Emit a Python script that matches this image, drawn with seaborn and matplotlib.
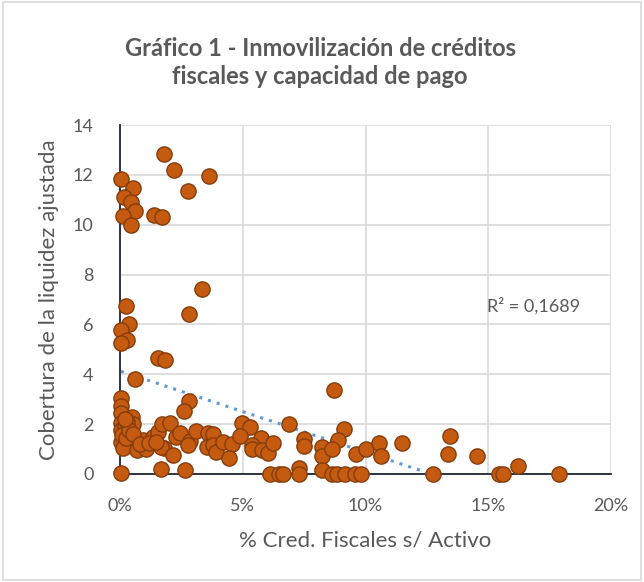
import numpy as np
import pandas as pd
import matplotlib
matplotlib.use("Agg")
import matplotlib.pyplot as plt
from matplotlib.ticker import PercentFormatter
from matplotlib.patches import Rectangle
import seaborn as sns

# % Cred. Fiscales s/ Activo (in %), Cobertura de la liquidez ajustada
cred_fiscales = [
    1.80, 2.19, 3.64, 0.04, 0.53, 2.76, 0.15, 0.44, 0.62, 1.38, 1.70, 0.12, 0.44,
    3.33, 0.23, 2.80, 0.37, 0.04, 0.27, 0.04, 1.55, 1.83, 0.60,
    0.04, 0.04, 0.04, 0.04, 0.04, 0.04, 0.48, 0.54, 0.41, 0.14, 0.68, 1.05, 0.95,
    1.36, 1.56, 1.72, 1.81, 1.67, 0.04, 1.67, 0.20, 0.30,
    0.10, 0.25, 0.35, 0.20, 0.55, 0.80, 1.20, 1.45,
    2.04, 2.17, 2.27, 2.44, 2.65, 2.82, 2.61, 2.85, 2.78, 3.10, 3.60, 3.78, 3.53,
    3.80, 3.91, 4.21, 4.55, 4.45, 4.98, 5.29, 4.89, 5.73, 5.39, 5.36, 5.80, 6.04,
    6.22, 6.88, 6.11, 6.47, 6.65, 7.29, 7.29, 7.51, 7.50, 8.21, 8.21, 8.21,
    8.72, 9.14, 8.89, 8.62, 8.62, 8.83, 9.16, 9.57, 9.82, 9.61, 10.02, 10.55,
    10.62, 11.50, 12.76, 13.44, 13.37, 14.53, 15.45, 15.61, 16.20, 17.89,
]
cobertura = [
    12.84, 12.18, 11.95, 11.82, 11.49, 11.35, 11.10, 10.90, 10.55, 10.40, 10.32, 10.35, 9.98,
    7.41, 6.75, 6.41, 6.03, 5.76, 5.36, 5.25, 4.64, 4.57, 3.80,
    3.03, 2.73, 2.43, 2.06, 1.76, 1.30, 2.30, 2.00, 1.30, 1.03, 0.96, 0.99, 1.36,
    1.50, 1.70, 2.00, 1.03, 1.10, 0.03, 0.19, 1.90, 2.10,
    1.55, 1.45, 1.75, 2.20, 1.60, 1.20, 1.25, 1.30,
    2.03, 0.76, 1.47, 1.63, 0.16, 2.94, 2.54, 1.34, 1.16, 1.74, 1.66, 1.60, 1.07,
    1.16, 0.90, 1.30, 1.20, 0.63, 2.03, 1.87, 1.52, 1.43, 1.16, 0.99, 0.96, 0.83,
    1.26, 2.00, 0.00, 0.00, 0.00, 0.23, 0.00, 1.39, 1.12, 1.10, 0.72, 0.16,
    3.37, 1.80, 1.36, 0.99, 0.00, 0.00, 0.00, 0.00, 0.00, 0.79, 0.99, 1.23,
    0.72, 1.23, 0.00, 1.52, 0.79, 0.72, 0.00, 0.00, 0.33, 0.00,
]

titulo = "Gráfico 1 - Inmovilización de créditos\nfiscales y capacidad de pago"
x_label = "% Cred. Fiscales s/ Activo"
y_label = "Cobertura de la liquidez ajustada"
r2_text = "R² = 0,1689"

df = pd.DataFrame({"x": cred_fiscales, "y": cobertura})

sns.set_style("whitegrid")
plt.rcParams["font.family"] = ["Lato", "DejaVu Sans"]

gray_txt = "#595959"
fig = plt.figure(figsize=(6.44, 5.82), dpi=100)
ax = fig.add_axes([0.1863, 0.1856, 0.9488 - 0.1863, 0.7852 - 0.1856])

# tendencia lineal (como Excel)
sns.regplot(data=df, x="x", y="y", ax=ax, scatter=False, ci=None, truncate=True,
            line_kws={"color": "#5B9BD5", "linestyle": (0, (1, 2)), "linewidth": 2.2})
sns.scatterplot(data=df, x="x", y="y", ax=ax, s=120, color="#C55A11",
                edgecolor="#843C0C", linewidth=1.0, zorder=3, clip_on=False)

ax.set_xlim(0, 20)
ax.set_ylim(0, 14)
ax.set_xticks(np.arange(0, 21, 5))
ax.set_yticks(np.arange(0, 15, 2))
ax.xaxis.set_major_formatter(PercentFormatter(xmax=100, decimals=0))

ax.grid(True, color="#D9D9D9", linewidth=1.2)
ax.set_axisbelow(True)
for side in ["top", "right"]:
    ax.spines[side].set_visible(False)
for side in ["left", "bottom"]:
    ax.spines[side].set_color("#1f2633")
    ax.spines[side].set_linewidth(1.3)
ax.tick_params(axis="both", which="major", length=5, width=1.2, color="#1f2633",
               labelcolor=gray_txt, labelsize=13, direction="out")
ax.tick_params(axis="x", pad=12)
ax.tick_params(axis="y", pad=14)

ax.set_xlabel(x_label, fontsize=16, color=gray_txt, labelpad=12)
ax.set_ylabel(y_label, fontsize=16, color=gray_txt, labelpad=10)

ax.text(14.95, 6.75, r2_text, fontsize=13, color=gray_txt, va="center", ha="left")

fig.suptitle(titulo, x=0.497, y=0.937, fontsize=17, fontweight="bold",
             color=gray_txt, linespacing=1.3)

fig.patches.append(Rectangle((0.004, 0.004), 0.992, 0.992, transform=fig.transFigure,
                             fill=False, edgecolor="#D9D9D9", linewidth=1.2))

fig.savefig("out.png", dpi=100, facecolor="white")
